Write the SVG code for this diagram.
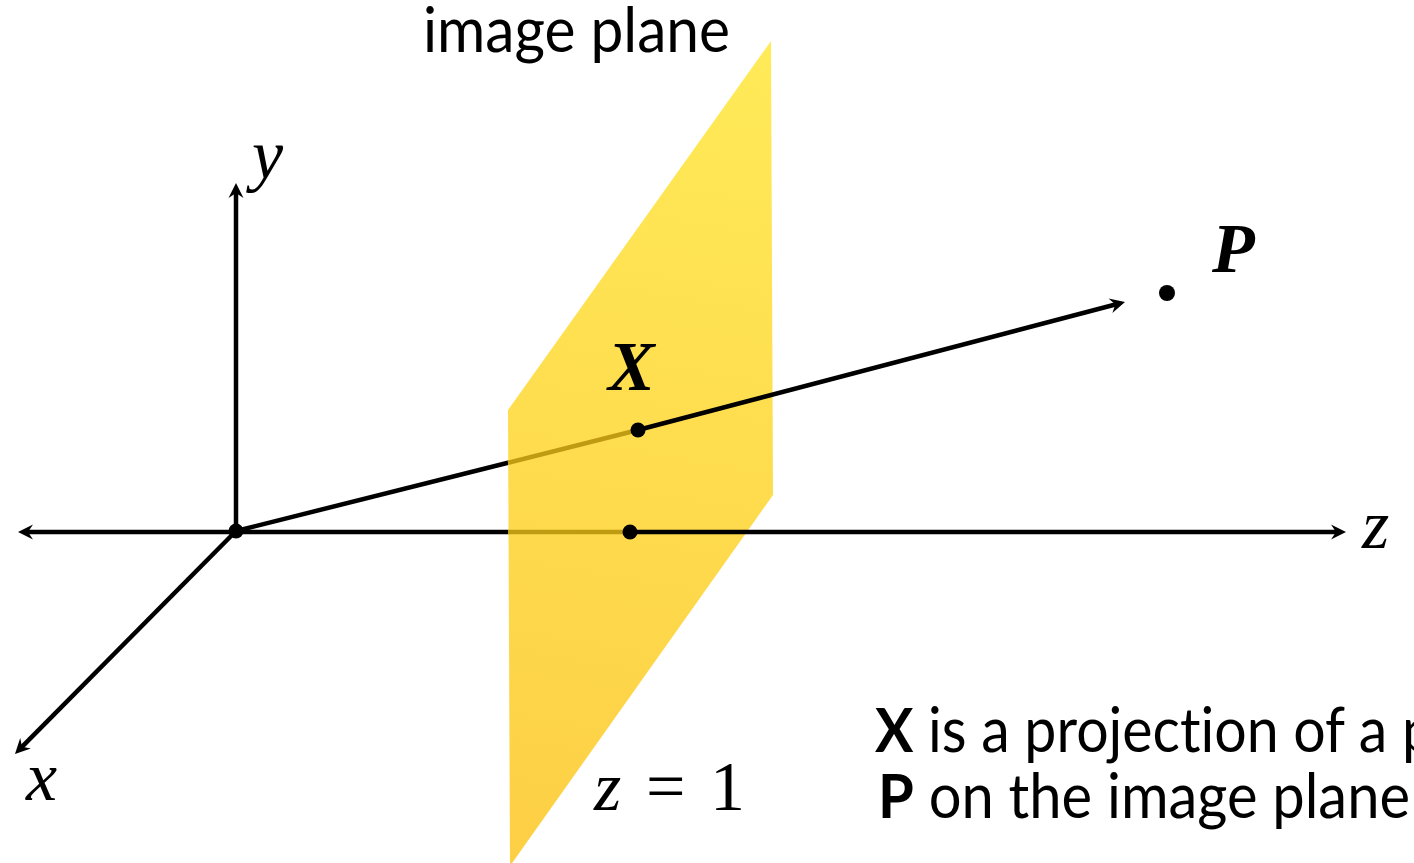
<svg xmlns="http://www.w3.org/2000/svg" width="1414" height="863" viewBox="0 0 1414 863">
<style>
.ax{stroke:#000;stroke-width:4.5;fill:none;stroke-linecap:butt}
.gold{stroke:#BF9B12;stroke-width:4.5;fill:none}
.dot{fill:#000}
.math{font-family:"Liberation Serif","DejaVu Serif",serif;font-style:italic;font-size:70px;fill:#000}
.up{font-style:normal}
.mathb{font-family:"Liberation Serif","DejaVu Serif",serif;font-style:italic;font-weight:bold;font-size:70px;fill:#000}
.txt{font-family:Lato,"Open Sans","Liberation Sans",sans-serif;font-size:62px;fill:#000;font-variant-ligatures:none;font-feature-settings:"liga" 0}
</style>
<defs>
<linearGradient id="planeGrad" gradientUnits="userSpaceOnUse" x1="700" y1="41" x2="560" y2="863">
<stop offset="0" stop-color="#FFEA58"/>
<stop offset="1" stop-color="#FDCF44"/>
</linearGradient>
<marker id="arr" viewBox="-17 -9 19 18" refX="-6" refY="0" markerWidth="19" markerHeight="18" markerUnits="userSpaceOnUse" orient="auto">
<path d="M0,0 L-15,-7.5 L-10,0 L-15,7.5 Z" fill="#000"/>
</marker>
</defs>
<rect width="1414" height="863" fill="#fff"/>

<g id="connectors-back">
<line class="ax" x1="236" y1="531" x2="236" y2="189" marker-end="url(#arr)"/>
<line class="ax" x1="236" y1="531" x2="19.2" y2="749.7" marker-end="url(#arr)"/>
<line class="ax" x1="509" y1="532" x2="24" y2="532" marker-end="url(#arr)"/>
<line class="ax" x1="236" y1="531" x2="509" y2="462.5"/>
</g>

<g id="image-plane">
<polygon points="771,41 773,495 510,866 508,410" fill="url(#planeGrad)"/>
</g>

<g id="connectors">
<line class="gold" x1="508" y1="532" x2="630" y2="532"/>
<line class="gold" x1="508" y1="462.8" x2="638" y2="430"/>
<line class="ax" x1="630" y1="532" x2="1340" y2="532" marker-end="url(#arr)"/>
<line class="ax" x1="638" y1="430" x2="1119.2" y2="303.5" marker-end="url(#arr)"/>
</g>

<g id="origin"><circle class="dot" cx="236" cy="531" r="7.5"/></g>
<g id="point-z1"><circle class="dot" cx="630" cy="532" r="7.5"/></g>
<g id="point-X"><circle class="dot" cx="638" cy="430" r="7.5"/>
<text class="mathb" x="608" y="390">X</text></g>
<g id="point-P"><circle class="dot" cx="1167" cy="293" r="8"/>
<text class="mathb" x="1212" y="272">P</text></g>

<g id="labels">
<text class="math" x="252" y="178">y</text>
<text class="math" x="26" y="800">x</text>
<text class="math" x="1362" y="548">z</text>
<text class="math" x="594" y="810">z<tspan class="up" x="646">=</tspan><tspan class="up" x="710">1</tspan></text>
<text class="txt" x="423" y="52" textLength="307" lengthAdjust="spacingAndGlyphs">image plane</text>
<text class="txt" x="875" y="752" textLength="559" lengthAdjust="spacingAndGlyphs"><tspan font-weight="bold">X</tspan> is a projection of a p</text>
<text class="txt" x="878" y="818" textLength="532" lengthAdjust="spacingAndGlyphs"><tspan font-weight="bold">P</tspan> on the image plane</text>
</g>
</svg>
